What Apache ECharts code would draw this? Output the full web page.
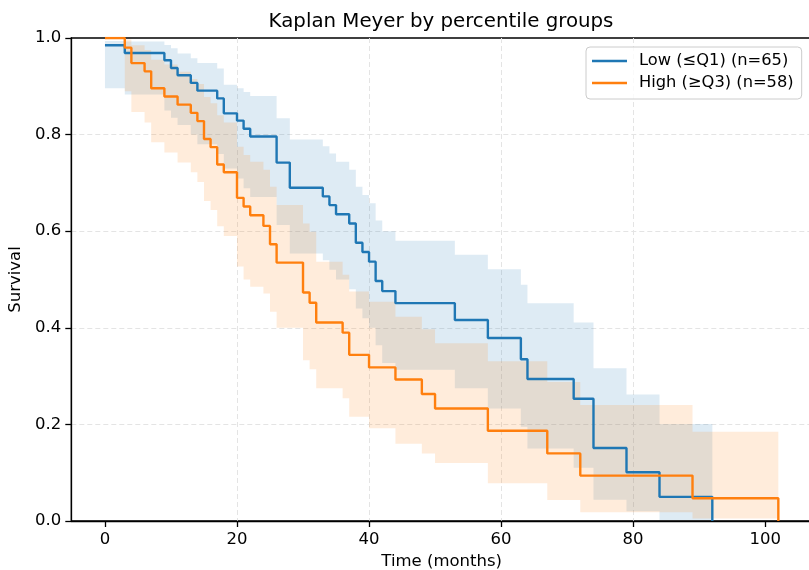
<!DOCTYPE html>
<html>
<head>
<meta charset="utf-8">
<script src="https://cdn.jsdelivr.net/npm/echarts@6/dist/echarts.min.js"></script>
<style>
html,body{margin:0;padding:0;background:#fff;}
#chart{width:809px;height:570px;}
</style>
</head>
<body>
<div id="chart"></div>
<script>
// ---- data ----
const titleText = 'Kaplan Meyer by percentile groups';
const xName = 'Time (months)';
const yName = 'Survival';
const xTicks = [0, 20, 40, 60, 80, 100];

const lowName = 'Low (≤Q1) (n=65)';
const lowTimes = [0,3,9,10,11,13,14,17,18,20,21,22,26,28,33,34,35,37,38,39,40,41,42,44,53,58,63,64,71,74,79,84,92];
const lowSurv  = [0.985,0.969,0.954,0.938,0.923,0.907,0.891,0.875,0.844,0.829,0.812,0.796,0.742,0.690,0.672,0.654,0.635,0.616,0.576,0.557,0.537,0.497,0.476,0.451,0.416,0.379,0.335,0.294,0.253,0.151,0.101,0.050,0];
const lowUpper = [0.994,0.993,0.9855,0.979,0.968,0.958,0.948,0.937,0.903,0.896,0.888,0.880,0.834,0.790,0.776,0.761,0.744,0.727,0.692,0.675,0.658,0.622,0.600,0.580,0.551,0.521,0.489,0.451,0.411,0.316,0.262,0.201];
const lowLower = [0.896,0.883,0.850,0.835,0.820,0.800,0.780,0.760,0.730,0.709,0.689,0.671,0.613,0.554,0.540,0.520,0.500,0.480,0.440,0.420,0.400,0.364,0.327,0.313,0.275,0.233,0.195,0.150,0.110,0.044,0.020,0.002];

const highName = 'High (≥Q3) (n=58)';
const highTimes = [0,3,4,6,7,9,11,13,14,15,16,17,18,20,21,22,24,25,26,30,31,32,36,37,40,44,48,50,58,67,72,89,102];
const highSurv  = [1.0,0.98,0.948,0.931,0.896,0.879,0.862,0.845,0.828,0.791,0.774,0.738,0.722,0.669,0.651,0.633,0.611,0.573,0.535,0.473,0.452,0.411,0.390,0.344,0.318,0.293,0.263,0.233,0.187,0.140,0.094,0.047,0];
const highUpper = [1.0,0.997,0.985,0.975,0.955,0.945,0.930,0.915,0.905,0.878,0.865,0.840,0.825,0.775,0.758,0.744,0.727,0.692,0.654,0.616,0.599,0.537,0.510,0.475,0.454,0.423,0.397,0.368,0.331,0.288,0.240,0.185];
const highLower = [1.0,0.890,0.847,0.825,0.784,0.763,0.742,0.722,0.702,0.6625,0.644,0.610,0.590,0.527,0.500,0.485,0.471,0.433,0.400,0.333,0.314,0.275,0.254,0.216,0.192,0.160,0.140,0.120,0.078,0.0435,0.018,0.005];

// ---- styles ----
const FONT = 'DejaVu Sans';
const BLUE = '#1f77b4';
const ORANGE = '#ff7f0e';

function bandSeries(times, lower, upper, color) {
  const data = lower.map((l, i) => [times[i], l, upper[i], times[i + 1]]);
  return {
    type: 'custom',
    silent: true,
    clip: true,
    z: 1,
    data: data,
    encode: { x: [0, 3], y: [1, 2] },
    renderItem: function (params, api) {
      if (params.dataIndex !== 0) return null;
      const pts = [];
      for (let i = 0; i < data.length; i++) {
        pts.push(api.coord([data[i][0], data[i][2]]));
        pts.push(api.coord([data[i][3], data[i][2]]));
      }
      for (let i = data.length - 1; i >= 0; i--) {
        pts.push(api.coord([data[i][3], data[i][1]]));
        pts.push(api.coord([data[i][0], data[i][1]]));
      }
      return { type: 'polygon', shape: { points: pts }, style: { fill: color, opacity: 0.15 } };
    }
  };
}

function lineSeries(name, times, surv, color) {
  return {
    type: 'line',
    name: name,
    step: 'end',
    showSymbol: false,
    symbol: 'none',
    z: 5,
    data: times.map((t, i) => [t, surv[i]]),
    lineStyle: { color: color, width: 2.4 },
    itemStyle: { color: color },
    emphasis: { disabled: true }
  };
}

const chart = echarts.init(document.getElementById('chart'), null, { renderer: 'canvas' });
chart.setOption({
  animation: false,
  backgroundColor: '#ffffff',
  title: {
    text: titleText,
    left: 436,
    top: 7,
    textAlign: 'center',
    textStyle: { fontFamily: FONT, fontSize: 19.8, fontWeight: 'normal', color: '#000' }
  },
  legend: {
    data: [lowName, highName],
    orient: 'vertical',
    left: 586,
    top: 47,
    padding: [6, 8, 8, 6],
    itemGap: 6,
    itemWidth: 35,
    itemHeight: 2.5,
    icon: 'rect',
    backgroundColor: 'rgba(255,255,255,0.8)',
    borderColor: '#cccccc',
    borderWidth: 1,
    borderRadius: 4,
    textStyle: { fontFamily: FONT, fontSize: 16.3, color: '#000', padding: [0, 0, 0, 7] }
  },
  grid: {
    left: 71.3, right: -3, top: 38, bottom: 49,
    outerBoundsMode: 'none',
    containLabel: false,
    show: true, borderColor: '#000', borderWidth: 1.3, backgroundColor: 'transparent'
  },
  xAxis: {
    type: 'value',
    min: -5.1,
    max: 107.1,
    name: xName,
    nameLocation: 'middle',
    nameGap: 32,
    nameTextStyle: { fontFamily: FONT, fontSize: 16.5, color: '#000' },
    axisLine: { show: true, onZero: false, lineStyle: { color: '#000', width: 1.3 } },
    axisTick: { show: true, customValues: xTicks, length: 6, lineStyle: { color: '#000', width: 1.3 } },
    axisLabel: { customValues: xTicks, margin: 10, fontFamily: FONT, fontSize: 16.5, color: '#000' },
    splitLine: { show: true, showMinLine: false, showMaxLine: false, lineStyle: { color: '#e4e4e4', width: 1, type: [5, 3] } }
  },
  yAxis: {
    type: 'value',
    min: 0,
    max: 1,
    interval: 0.2,
    name: yName,
    nameLocation: 'middle',
    nameGap: 38,
    nameTextStyle: { fontFamily: FONT, fontSize: 16.5, color: '#000' },
    axisLine: { show: true, onZero: false, lineStyle: { color: '#000', width: 1.3 } },
    axisTick: { show: true, length: 6, lineStyle: { color: '#000', width: 1.3 } },
    axisLabel: { margin: 10, fontFamily: FONT, fontSize: 16.5, color: '#000', formatter: v => v.toFixed(1) },
    splitLine: { show: true, showMinLine: false, showMaxLine: false, lineStyle: { color: '#e4e4e4', width: 1, type: [5, 3] } }
  },
  series: [
    bandSeries(lowTimes, lowLower, lowUpper, BLUE),
    bandSeries(highTimes, highLower, highUpper, ORANGE),
    lineSeries(lowName, lowTimes, lowSurv, BLUE),
    lineSeries(highName, highTimes, highSurv, ORANGE)
  ]
});
</script>
</body>
</html>
